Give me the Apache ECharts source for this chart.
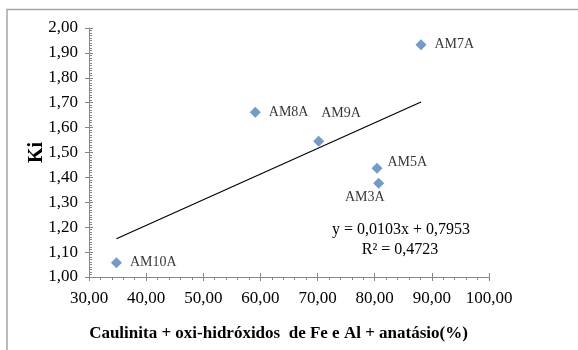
<!DOCTYPE html>
<html>
<head>
<meta charset="utf-8">
<script src="https://cdn.jsdelivr.net/npm/echarts@6/dist/echarts.min.js"></script>
<style>
html,body{margin:0;padding:0;background:#fff;}
#chart{width:578px;height:350px;}
</style>
</head>
<body>
<div id="chart"></div>
<script>
// ---- data ----
var sampleNames = ['AM10A', 'AM8A', 'AM9A', 'AM5A', 'AM3A', 'AM7A'];
var xValues = [34.8, 59.1, 70.2, 80.4, 80.7, 88.1];
var yValues = [1.057, 1.662, 1.545, 1.437, 1.377, 1.933];
var trendSlope = 0.0103;
var trendIntercept = 0.7953;
var rSquared = 0.4723;
var xTicks = [30, 40, 50, 60, 70, 80, 90, 100];
var yTicks = [1.0, 1.1, 1.2, 1.3, 1.4, 1.5, 1.6, 1.7, 1.8, 1.9, 2.0];
var xTitle = 'Caulinita + oxi-hidróxidos  de Fe e Al + anatásio(%)';
var yTitle = 'Ki';

// ---- styling ----
var FONT = 'Liberation Serif';
var AXIS_COLOR = '#868686';
var labelStyles = {
  'AM10A': {position: 'right', offset: [8, 0]},
  'AM8A':  {position: 'right', offset: [8, 0]},
  'AM9A':  {position: 'right', offset: [-3, -28]},
  'AM5A':  {position: 'right', offset: [5, -6]},
  'AM3A':  {position: 'bottom', offset: [-14, 2]},
  'AM7A':  {position: 'right', offset: [8, 0]}
};

function fmt(v) { return v.toFixed(2).replace('.', ','); }
function fmt4(v) { return v.toFixed(4).replace('.', ','); }

var points = sampleNames.map(function (n, i) {
  var ls = labelStyles[n];
  return {
    name: n,
    value: [xValues[i], yValues[i]],
    label: {show: true, position: ls.position, offset: ls.offset, distance: 0}
  };
});

var xMinData = Math.min.apply(null, xValues);
var xMaxData = Math.max.apply(null, xValues);
var trendData = [
  [xMinData, trendSlope * xMinData + trendIntercept],
  [xMaxData, trendSlope * xMaxData + trendIntercept]
];

var grid = {left: 89, right: 89, top: 28, bottom: 73};
var xMin = xTicks[0], xMax = xTicks[xTicks.length - 1], xInt = xTicks[1] - xTicks[0];
var yMin = yTicks[0], yMax = yTicks[yTicks.length - 1], yInt = 0.1;

var chart = echarts.init(document.getElementById('chart'), null, {renderer: 'canvas'});
chart.setOption({
  animation: false,
  backgroundColor: '#fff',
  textStyle: {fontFamily: FONT},
  grid: grid,
  xAxis: [{
    type: 'value', min: xMin, max: xMax, interval: xInt,
    axisLine: {show: true, lineStyle: {color: AXIS_COLOR, width: 1}},
    axisTick: {show: true, inside: false, length: 4, lineStyle: {color: AXIS_COLOR}},
    minorTick: {show: true, splitNumber: 5, length: 3, lineStyle: {color: AXIS_COLOR}},
    splitLine: {show: false},
    axisLabel: {color: '#000', fontFamily: FONT, fontSize: 17, margin: 13, formatter: fmt},
    name: xTitle, nameLocation: 'middle', nameGap: 48, nameMoveOverlap: false,
    nameTextStyle: {color: '#000', fontFamily: FONT, fontSize: 17, fontWeight: 'bold', padding: [0, 21, 0, 0]}
  }, {
    type: 'value', min: xMin, max: xMax, interval: xInt, position: 'bottom',
    axisLine: {show: false},
    axisTick: {show: true, inside: true, length: 4, lineStyle: {color: AXIS_COLOR}},
    splitLine: {show: false},
    axisLabel: {show: false}
  }],
  yAxis: [{
    type: 'value', min: yMin, max: yMax, interval: yInt,
    axisLine: {show: true, lineStyle: {color: AXIS_COLOR, width: 1}},
    axisTick: {show: true, inside: true, length: 4, lineStyle: {color: AXIS_COLOR}},
    minorTick: {show: true, splitNumber: 10, length: 3, lineStyle: {color: AXIS_COLOR}},
    splitLine: {show: false},
    axisLabel: {color: '#000', fontFamily: FONT, fontSize: 17, margin: 11, formatter: fmt},
    name: yTitle, nameLocation: 'middle', nameGap: 42, nameRotate: 90, nameMoveOverlap: false,
    nameTextStyle: {color: '#000', fontFamily: FONT, fontSize: 20, fontWeight: 'bold'}
  }, {
    type: 'value', min: yMin, max: yMax, interval: yInt, position: 'left',
    axisLine: {show: false},
    axisTick: {show: true, inside: false, length: 4, lineStyle: {color: AXIS_COLOR}},
    splitLine: {show: false},
    axisLabel: {show: false}
  }],
  series: [{
    type: 'line',
    data: trendData,
    showSymbol: false,
    symbol: 'none',
    lineStyle: {color: '#000', width: 1.2},
    silent: true,
    z: 1
  }, {
    type: 'scatter',
    data: points,
    symbol: 'diamond',
    symbolSize: 11,
    itemStyle: {color: '#4F81BD'},
    label: {
      formatter: '{b}', color: '#000', fontFamily: FONT, fontSize: 14
    },
    z: 3
  }],
  graphic: [{
    type: 'rect', silent: true, z: 0,
    shape: {x: 7, y: 9.5, width: 620, height: 400},
    style: {fill: 'none', stroke: '#a6a6a6', lineWidth: 1.5}
  }, {
    type: 'text', silent: true, x: 401, y: 230,
    style: {
      text: 'y = ' + fmt4(trendSlope) + 'x + ' + fmt4(trendIntercept),
      fontFamily: FONT, fontSize: 16, fill: '#000', align: 'center', verticalAlign: 'middle'
    }
  }, {
    type: 'text', silent: true, x: 400, y: 250,
    style: {
      text: 'R² = ' + fmt4(rSquared),
      fontFamily: FONT, fontSize: 16, fill: '#000', align: 'center', verticalAlign: 'middle'
    }
  }]
});
</script>
</body>
</html>
